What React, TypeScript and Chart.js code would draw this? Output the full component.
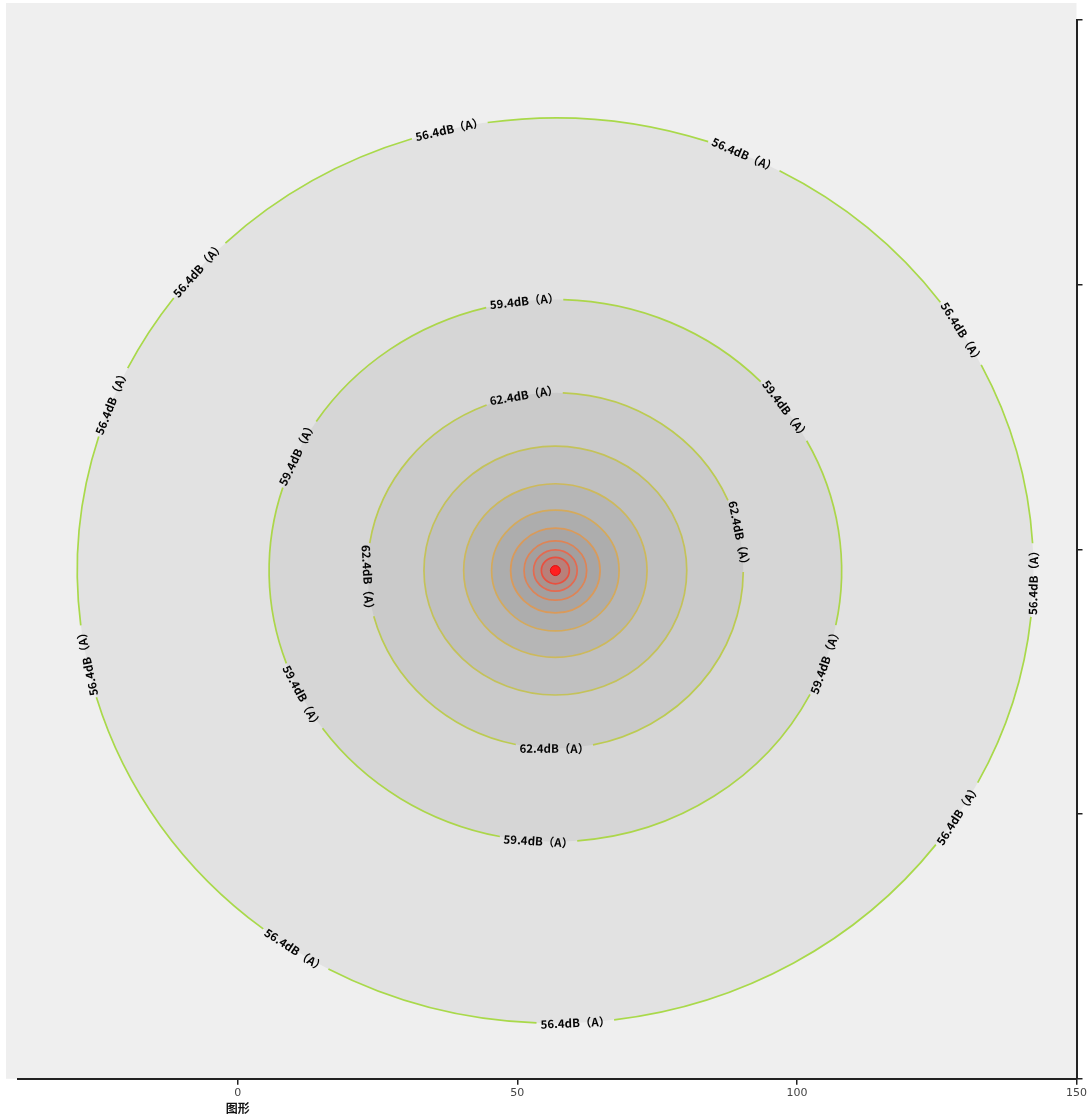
import React, { useEffect, useRef } from "react";
import { Chart, registerables } from "chart.js";

Chart.register(...registerables);

// ---- data ----
const sourceX = 56.8;
const sourceY = 96;
const levels = [56.4, 59.4, 62.4, 65.4, 68.4, 71.4, 74.4, 77.4, 80.4, 83.4];
const radii = [85.5, 51.2, 33.6, 23.5, 16.4, 11.4, 8.0, 5.6, 3.9, 2.5];
const lineColors = ["#a9d94a", "#acd64a", "#bccb52", "#c4c25a", "#cdb95c", "#d4aa5c", "#da9a5a", "#de8456", "#e46a50", "#e8503f"];
const fillColors = ["#e2e2e2", "#d6d6d6", "#cacaca", "#c0c0c0", "#b6b6b6", "#adadad", "#a7a5a5", "#a39f9f", "#a8948f", "#b8807a"];
const labelLevel = [0, 0, 0, 0, 0, 0, 0, 0, 0, 0, 1, 1, 1, 1, 1, 1, 2, 2, 2, 2];
const labelAngle = [-102.8, -66.7, -138.3, -31.7, -158.1, 1.2, 168.4, 32.6, 123, 87.6, -96.2, -36.4, -154.4, 19.4, 152.2, 93.4, -99.6, -11.4, 177, 90.3];
const labelFlip = [false, false, false, false, false, false, true, false, false, false, false, false, false, false, false, false, false, false, false, false];
const xTicks = [0, 50, 100, 150];
const yTicks = [0, 50, 100, 150, 200];
const xMin = -39.3;
const xMax = 150;
const yMin = 0;
const yMax = 200;
const xNote = "图形";

const LABEL_FONT = 'bold 11.5px "Noto Sans CJK SC", "DejaVu Sans", sans-serif';
const labelText = (i: number) => `${levels[i].toFixed(1)}dB（A）`;

const contourPlugin = {
  id: "contours",
  beforeDraw(chart: any) {
    const { ctx, chartArea: a } = chart;
    ctx.save();
    ctx.fillStyle = "#ffffff";
    ctx.fillRect(0, 0, chart.width, chart.height);
    ctx.fillStyle = "#efefef";
    ctx.fillRect(a.left - 12, a.top - 17, a.right - a.left + 12, a.bottom - a.top + 17);
    ctx.restore();
  },
  beforeDatasetsDraw(chart: any) {
    const { ctx } = chart;
    const xs = chart.scales.x;
    const ys = chart.scales.y;
    const cx = xs.getPixelForValue(sourceX);
    const cy = ys.getPixelForValue(sourceY);
    const rx = (i: number) => xs.getPixelForValue(sourceX + radii[i]) - cx;
    const ry = (i: number) => cy - ys.getPixelForValue(sourceY + radii[i]);
    ctx.save();
    // fills
    radii.forEach((_, i) => {
      ctx.beginPath();
      ctx.ellipse(cx, cy, rx(i), ry(i), 0, 0, Math.PI * 2);
      ctx.fillStyle = fillColors[i];
      ctx.fill();
    });
    // lines with gaps for labels
    ctx.font = LABEL_FONT;
    radii.forEach((_, i) => {
      const gaps: number[][] = [];
      const R = (rx(i) + ry(i)) / 2;
      labelLevel.forEach((lv, k) => {
        if (lv !== i) return;
        const w = ctx.measureText(labelText(i)).width;
        const half = (w / 2 + 3) / R;
        let t = (labelAngle[k] * Math.PI) / 180;
        if (t < 0) t += Math.PI * 2;
        gaps.push([t - half, t + half]);
      });
      ctx.strokeStyle = lineColors[i];
      ctx.lineWidth = 1.7;
      if (gaps.length === 0) {
        ctx.beginPath();
        ctx.ellipse(cx, cy, rx(i), ry(i), 0, 0, Math.PI * 2);
        ctx.stroke();
        return;
      }
      gaps.sort((p, q) => p[0] - q[0]);
      for (let j = 0; j < gaps.length; j++) {
        const start = gaps[j][1];
        const end = j + 1 < gaps.length ? gaps[j + 1][0] : gaps[0][0] + Math.PI * 2;
        ctx.beginPath();
        ctx.ellipse(cx, cy, rx(i), ry(i), 0, start, end);
        ctx.stroke();
      }
    });
    // labels
    ctx.fillStyle = "#050505";
    ctx.textAlign = "center";
    ctx.textBaseline = "middle";
    labelLevel.forEach((lv, k) => {
      const t = (labelAngle[k] * Math.PI) / 180;
      const px = cx + rx(lv) * Math.cos(t);
      const py = cy + ry(lv) * Math.sin(t);
      let rot = t + Math.PI / 2;
      while (rot > Math.PI / 2) rot -= Math.PI;
      while (rot <= -Math.PI / 2) rot += Math.PI;
      if (labelFlip[k]) rot -= Math.PI;
      ctx.save();
      ctx.translate(px, py);
      ctx.rotate(rot);
      ctx.fillText(labelText(lv), 0, 0);
      ctx.restore();
    });
    ctx.restore();
  },
  afterDraw(chart: any) {
    const { ctx } = chart;
    const xs = chart.scales.x;
    ctx.save();
    ctx.font = 'bold 12px "Noto Sans CJK SC", sans-serif';
    ctx.fillStyle = "#111";
    ctx.textAlign = "center";
    ctx.textBaseline = "middle";
    ctx.fillText(xNote, xs.getPixelForValue(0), chart.height - 10);
    ctx.restore();
  },
};

export default function App() {
  const ref = useRef<HTMLCanvasElement | null>(null);
  useEffect(() => {
    if (!ref.current) return;
    const axisGrid = {
      drawOnChartArea: false,
      drawTicks: true,
      tickLength: 6,
      color: "#222",
      lineWidth: 1.5,
    };
    const chart = new Chart(ref.current, {
      type: "scatter",
      data: {
        datasets: [
          {
            label: "source",
            data: [{ x: sourceX, y: sourceY }],
            pointRadius: 5,
            backgroundColor: "#ff2020",
            borderColor: "#e01010",
            borderWidth: 1,
          },
        ],
      },
      options: {
        animation: false,
        responsive: false,
        devicePixelRatio: 1,
        layout: { padding: { left: 18, top: 20, right: 4, bottom: 16 } },
        plugins: { legend: { display: false }, tooltip: { enabled: false } },
        scales: {
          x: {
            type: "linear",
            position: "bottom",
            min: xMin,
            max: xMax,
            afterBuildTicks: (s: any) => {
              s.ticks = xTicks.map((v) => ({ value: v }));
            },
            grid: axisGrid,
            border: { display: true, color: "#222", width: 2 },
            ticks: {
              color: "#444",
              font: { size: 11, family: '"DejaVu Sans", sans-serif' },
              padding: 2,
              maxRotation: 0,
              autoSkip: false,
            },
          },
          y: {
            type: "linear",
            position: "right",
            min: yMin,
            max: yMax,
            afterBuildTicks: (s: any) => {
              s.ticks = yTicks.map((v) => ({ value: v }));
            },
            grid: axisGrid,
            border: { display: true, color: "#222", width: 2 },
            ticks: { callback: () => "", padding: 0 },
          },
        },
      },
      plugins: [contourPlugin],
    });
    return () => chart.destroy();
  }, []);
  return (
    <div style={{ position: "absolute", left: 0, top: 0, width: 1089, height: 1118 }}>
      <canvas ref={ref} width={1089} height={1118} />
    </div>
  );
}
